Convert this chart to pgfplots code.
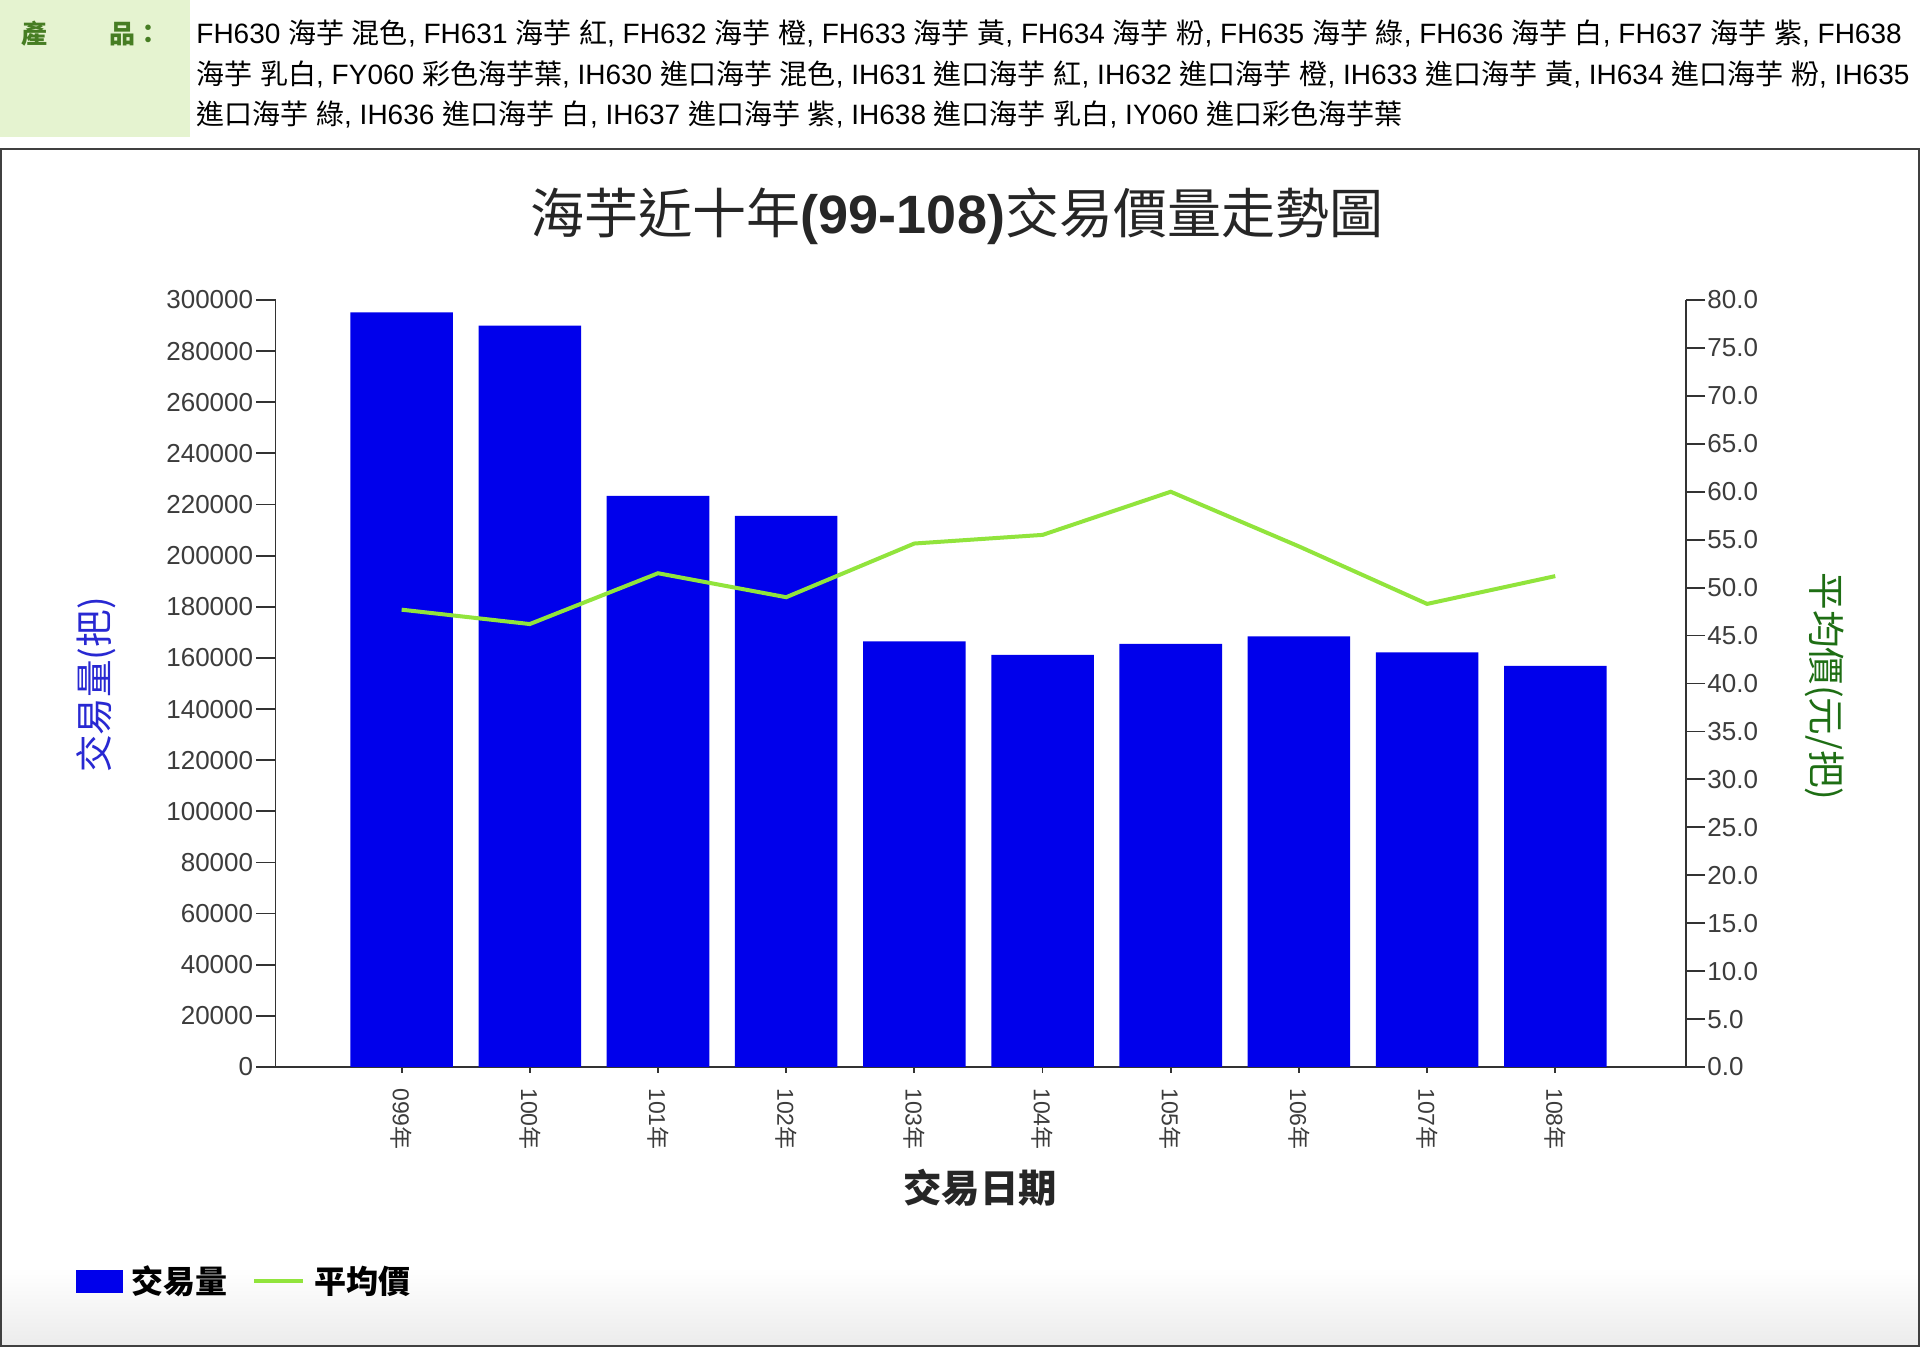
\documentclass[border=0pt]{standalone}
\usepackage{fontspec}
\usepackage{pgfplots}
\pgfplotsset{compat=1.18}
\setmainfont{Liberation Sans}
\newfontfamily\cjk{Noto Sans CJK TC}
\definecolor{barblue}{RGB}{0,0,235}
\definecolor{linegreen}{RGB}{145,228,60}
\definecolor{hdrgreen}{RGB}{229,243,208}
\definecolor{hdrtext}{RGB}{70,125,35}
\definecolor{ylblue}{RGB}{40,40,210}
\definecolor{ylgreen}{RGB}{30,110,20}
\definecolor{ticktext}{RGB}{60,60,60}
\newcommand{\C}[1]{{\cjk #1}}

\begin{document}
\begin{tikzpicture}
\useasboundingbox (0,0) rectangle (960pt,674pt);
\fill[white] (0,0) rectangle (960pt,674pt);
% header
\fill[hdrgreen] (0,605.5pt) rectangle (95pt,674pt);
\node[anchor=base west, inner sep=0pt, font=\fontsize{13}{13}\selectfont\cjk\bfseries, text=hdrtext] at (10.5pt,652pt) {產　\hspace{5pt}　品：};
\node[anchor=base west, inner sep=0pt, font=\fontsize{14}{14}\selectfont] at (98pt,652pt) {FH630 \C{海芋} \C{混色}, FH631 \C{海芋} \C{紅}, FH632 \C{海芋} \C{橙}, FH633 \C{海芋} \C{黃}, FH634 \C{海芋} \C{粉}, FH635 \C{海芋} \C{綠}, FH636 \C{海芋} \C{白}, FH637 \C{海芋} \C{紫}, FH638};
\node[anchor=base west, inner sep=0pt, font=\fontsize{14}{14}\selectfont] at (98pt,631.5pt) {\C{海芋} \C{乳白}, FY060 \C{彩色海芋葉}, IH630 \C{進口海芋} \C{混色}, IH631 \C{進口海芋} \C{紅}, IH632 \C{進口海芋} \C{橙}, IH633 \C{進口海芋} \C{黃}, IH634 \C{進口海芋} \C{粉}, IH635};
\node[anchor=base west, inner sep=0pt, font=\fontsize{14}{14}\selectfont] at (98pt,611.5pt) {\C{進口海芋} \C{綠}, IH636 \C{進口海芋} \C{白}, IH637 \C{進口海芋} \C{紫}, IH638 \C{進口海芋} \C{乳白}, IY060 \C{進口彩色海芋葉}};
% frame
\shade[top color=white, bottom color=gray!15] (1pt,1.5pt) rectangle (959pt,40pt);
\draw[line width=1pt, black!75] (0.5pt,1pt) rectangle (959.5pt,599.5pt);
% title
\node[font=\fontsize{27}{27}\selectfont, text=black!85] at (478.5pt,566pt) {\C{海芋近十年}\textbf{(99-108)}\C{交易價量走勢圖}};

\begin{axis}[
  at={(137.75pt,140.5pt)}, anchor=south west,
  scale only axis, width=705.25pt, height=383.5pt,
  xmin=-0.984, xmax=10.02, ymin=0, ymax=300000,
  axis x line*=bottom, axis y line*=left,
  axis line style={black!80, line width=0.9pt},
  tick style={black!80, line width=0.9pt},
  tick align=outside, major tick length=9.5pt,
  xtick={0,1,2,3,4,5,6,7,8,9},
  xticklabels={099\C{年},100\C{年},101\C{年},102\C{年},103\C{年},104\C{年},105\C{年},106\C{年},107\C{年},108\C{年}},
  xtick style={/pgfplots/major tick length=3pt},
  ytick={0,20000,40000,60000,80000,100000,120000,140000,160000,180000,200000,220000,240000,260000,280000,300000},
  scaled y ticks=false,
  yticklabel style={/pgf/number format/fixed, /pgf/number format/precision=0, /pgf/number format/1000 sep={}},
  /pgf/number format/assume math mode=true,
  tick label style={font=\fontsize{13}{13}\selectfont, text=ticktext},
  yticklabel style={inner sep=1.5pt},
  xticklabel style={rotate=-90, anchor=west, inner sep=1pt, font=\fontsize{11.5}{11.5}\selectfont},
  ylabel={\C{交易量(把)}},
  every axis y label/.style={at={(axis description cs:-0.1273,0.498)}, rotate=90, anchor=center, font=\fontsize{18.8}{18.8}\selectfont, text=ylblue},
  xlabel={\C{交易日期}},
  every axis x label/.style={at={(axis description cs:0.4995,-0.1578)}, anchor=center, font=\fontsize{19.2}{19.2}\selectfont\bfseries, text=black!85},
]
\addplot[ybar, bar width=0.8, fill=barblue, draw=none] coordinates {
(0,295200) (1,290000) (2,223400) (3,215600) (4,166500)
(5,161200) (6,165500) (7,168400) (8,162200) (9,156900)};
\end{axis}

\begin{axis}[
  at={(137.75pt,140.5pt)}, anchor=south west,
  scale only axis, width=705.25pt, height=383.5pt,
  xmin=-0.984, xmax=10.02, ymin=0, ymax=80,
  axis x line=none, axis y line*=right,
  axis line style={black!80, line width=0.9pt},
  tick style={black!80, line width=0.9pt},
  tick align=outside, major tick length=9.5pt,
  ytick={0,5,10,15,20,25,30,35,40,45,50,55,60,65,70,75,80},
  yticklabel style={/pgf/number format/fixed, /pgf/number format/fixed zerofill, /pgf/number format/precision=1},
  /pgf/number format/assume math mode=true,
  tick label style={font=\fontsize{13}{13}\selectfont, text=ticktext},
  yticklabel style={inner sep=1pt},
  ylabel={\C{平均價(元/把)}},
  every axis y label/.style={at={(axis description cs:1.0985,0.496)}, rotate=-90, anchor=center, font=\fontsize{18.8}{18.8}\selectfont, text=ylgreen},
  legend columns=2,
  legend style={at={(axis description cs:-0.1414,-0.2793)}, anchor=west, draw=none, fill=none, inner sep=0pt, outer sep=0pt,
    font=\fontsize{16}{16}\selectfont\cjk\bfseries,
    /tikz/every odd column/.append style={column sep=4.5pt},
    /tikz/every even column/.append style={column sep=12.3pt},
    nodes={inner sep=0pt}},
]
\addlegendimage{legend image code/.code={\fill[barblue] (0pt,-5.5pt) rectangle (23pt,5.5pt);}}
\addlegendentry{交易量}
\addplot[linegreen, line width=2pt, mark=none, legend image code/.code={\draw[linegreen, line width=2pt] (0pt,0pt) -- (24.5pt,0pt);}] coordinates {
(0,47.7) (1,46.2) (2,51.5) (3,49.0) (4,54.6)
(5,55.5) (6,60.0) (7,54.3) (8,48.3) (9,51.2)};
\addlegendentry{平均價}
\end{axis}
\end{tikzpicture}
\end{document}
